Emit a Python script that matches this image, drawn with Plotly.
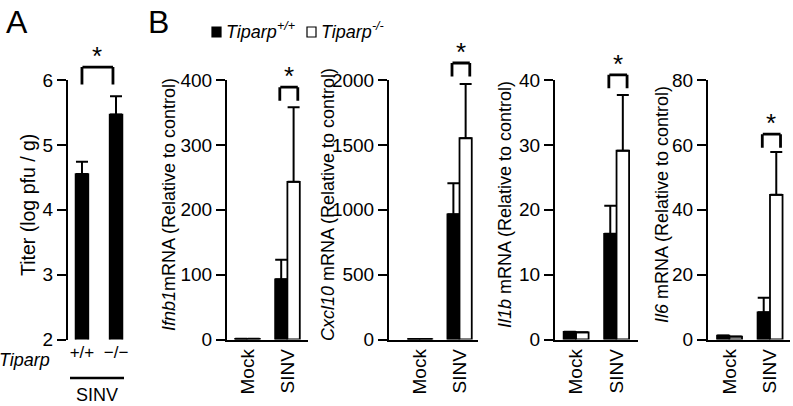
import plotly.graph_objects as go

W, H = 793, 406
FONT = "Liberation Sans, Arial, sans-serif"

# Panel A: virus titer
titer_groups = ["+/+", "\u2212/\u2212"]
titer_mean = [4.55, 5.47]
titer_err = [0.19, 0.28]
titer_sig_y = 6.2

# Panel B: cytokine mRNA, Tiparp+/+ (black) vs Tiparp-/- (white)
conditions = ["Mock", "SINV"]
genes = ["Ifnb1", "Cxcl10", "Il1b", "Il6"]
wt_mean = [[1, 93], [3, 965], [1.2, 16.3], [1.2, 8.4]]
wt_err = [[0, 30], [0, 240], [0, 4.3], [0, 4.5]]
ko_mean = [[1, 243], [3, 1552], [1.1, 29.1], [0.9, 44.6]]
ko_err = [[0, 115], [0, 417], [0, 8.6], [0, 13.2]]
y_max = [400, 2000, 40, 80]
y_step = [100, 500, 10, 20]
sig_y = [389, 2131, 40.8, 63.3]


def px_x(p):
    return p / W


def px_y(p):
    return 1 - p / H


y_dom = [px_y(339.5), px_y(80)]
# subplot x domains (pixels) and x ranges
x_dom_px = [[68, 130], [227, 308], [389, 478], [555, 638], [708, 790]]
x_rng = [[-0.41, 1.41], [-0.51, 1.515], [-0.785, 1.468], [-0.52, 1.53], [-0.53, 1.494]]
title_x_px = [28, 169, 328, 505, 662]

fig = go.Figure()

# panel A bars
fig.add_trace(go.Bar(
    x=[0, 1], y=titer_mean, width=0.38,
    marker=dict(color="black", line=dict(color="black", width=1.5)),
    error_y=dict(type="data", array=titer_err, arrayminus=[0, 0], symmetric=False,
                 color="black", thickness=2, width=6),
    showlegend=False, xaxis="x", yaxis="y",
))

# panel B bars
for i, g in enumerate(genes):
    ax = str(i + 2)
    fig.add_trace(go.Bar(
        x=[0, 1], y=wt_mean[i], name="wt",
        marker=dict(color="black", line=dict(color="black", width=1.5)),
        error_y=dict(type="data", array=wt_err[i], arrayminus=[0, 0], symmetric=False,
                     color="black", thickness=2, width=6),
        showlegend=False, xaxis="x" + ax, yaxis="y" + ax,
    ))
    fig.add_trace(go.Bar(
        x=[0, 1], y=ko_mean[i], name="ko",
        marker=dict(color="white", line=dict(color="black", width=1.8)),
        error_y=dict(type="data", array=ko_err[i], arrayminus=[0, 0], symmetric=False,
                     color="black", thickness=2, width=6),
        showlegend=False, xaxis="x" + ax, yaxis="y" + ax,
    ))

layout = dict(
    template="none",
    width=W, height=H,
    margin=dict(l=0, r=0, t=0, b=0, pad=0),
    plot_bgcolor="white", paper_bgcolor="white",
    barmode="group", bargap=0.38, bargroupgap=0,
    font=dict(family=FONT, color="black", size=18),
)

yaxis_common = dict(
    domain=y_dom, showline=True, linewidth=2, linecolor="black",
    ticks="outside", ticklen=9, tickwidth=2, tickcolor="black",
    tickfont=dict(size=19), showgrid=False, zeroline=False, fixedrange=True,
    automargin=False,
)

# panel A axes
layout["xaxis"] = dict(
    domain=[px_x(x_dom_px[0][0]), px_x(x_dom_px[0][1])], range=x_rng[0],
    showline=False, ticks="", tickvals=[0, 1], ticktext=titer_groups,
    tickfont=dict(size=17), showgrid=False, zeroline=False, anchor="y",
    automargin=False,
)
layout["yaxis"] = dict(yaxis_common, range=[2, 6], tickvals=[2, 3, 4, 5, 6], anchor="x")

for i in range(4):
    n = str(i + 2)
    layout["xaxis" + n] = dict(
        domain=[px_x(x_dom_px[i + 1][0]), px_x(x_dom_px[i + 1][1])], range=x_rng[i + 1],
        showline=True, linewidth=2, linecolor="black", ticks="",
        tickvals=[0, 1], ticktext=conditions, tickangle=-90, tickfont=dict(size=19),
        showgrid=False, zeroline=False, anchor="y" + n, automargin=False,
    )
    layout["yaxis" + n] = dict(
        yaxis_common, range=[0, y_max[i]],
        tickvals=[y_step[i] * k for k in range(5)], anchor="x" + n,
    )

fig.update_layout(**layout)


def label(text, x, y, size=18, xanchor="center", yanchor="middle", **kw):
    return dict(text=text, x=px_x(x), y=px_y(y), xref="paper", yref="paper",
                xanchor=xanchor, yanchor=yanchor, showarrow=False,
                font=dict(size=size), **kw)


ann = []
# panel letters
ann.append(label("A", 4, 2, 32, xanchor="left", yanchor="top"))
ann.append(label("B", 146, 2, 32, xanchor="left", yanchor="top"))

# axis titles
titles = ["Titer (log pfu / g)", "<i>Ifnb1</i>mRNA (Relative to control)"] + \
    ["<i>%s</i> mRNA (Relative to control)" % g for g in genes[1:]]
title_size = [19.5, 18, 18, 18, 18]
for t, xp, fs in zip(titles, title_x_px, title_size):
    ann.append(label(t, xp, 205, fs, textangle=-90))

# panel A genotype labels
ann.append(label("<i>Tiparp</i>", 52, 360, xanchor="right"))
ann.append(label("SINV", 97, 395))

# legend
ann.append(label("<i>Tiparp<sup>+/+</sup></i>", 224, 30, xanchor="left"))
ann.append(label("<i>Tiparp<sup>-/-</sup></i>", 319, 30, xanchor="left"))


def bracket(xa, ya, x0, x1, top, leg):
    # top is given as a fraction of the y axis domain (may exceed 1)
    out = []
    yd = ya + " domain"
    arrow = dict(text="", showarrow=True, arrowhead=0, arrowwidth=2.8, arrowcolor="black",
                 standoff=0, startstandoff=0, borderpad=0, xref=xa, yref=yd)
    out.append(dict(arrow, x=x1, y=top, ax=x0, ay=0, axref=xa, ayref="pixel"))
    out.append(dict(arrow, x=x0, y=top, ax=0, ay=leg))
    out.append(dict(arrow, x=x1, y=top, ax=0, ay=leg))
    out.append(dict(text="*", x=(x0 + x1) / 2, y=top, xref=xa, yref=yd,
                    xanchor="center", yanchor="bottom",
                    yshift=-6, showarrow=False, font=dict(size=26)))
    return out


ann += bracket("x", "y", 0, 0.91, (titer_sig_y - 2) / 4, 18)
for i in range(4):
    n = str(i + 2)
    ann += bracket("x" + n, "y" + n, 1 - 0.19, 1 + 0.26, sig_y[i] / y_max[i], 14)

shapes = [
    # legend swatches
    dict(type="rect", xref="paper", yref="paper", x0=px_x(212), x1=px_x(221),
         y0=px_y(37), y1=px_y(27), fillcolor="black", line=dict(color="black", width=1.2)),
    dict(type="rect", xref="paper", yref="paper", x0=px_x(307), x1=px_x(316),
         y0=px_y(37), y1=px_y(27), fillcolor="white", line=dict(color="black", width=1.2)),
    # SINV underline in panel A
    dict(type="line", xref="paper", yref="paper", x0=px_x(70), x1=px_x(124),
         y0=px_y(378), y1=px_y(378), line=dict(color="black", width=2.5)),
]

fig.update_layout(annotations=ann, shapes=shapes)
fig.write_html("out.html", config={"displayModeBar": False},
               post_script="document.body.style.margin='0';document.body.style.overflow='hidden';")
